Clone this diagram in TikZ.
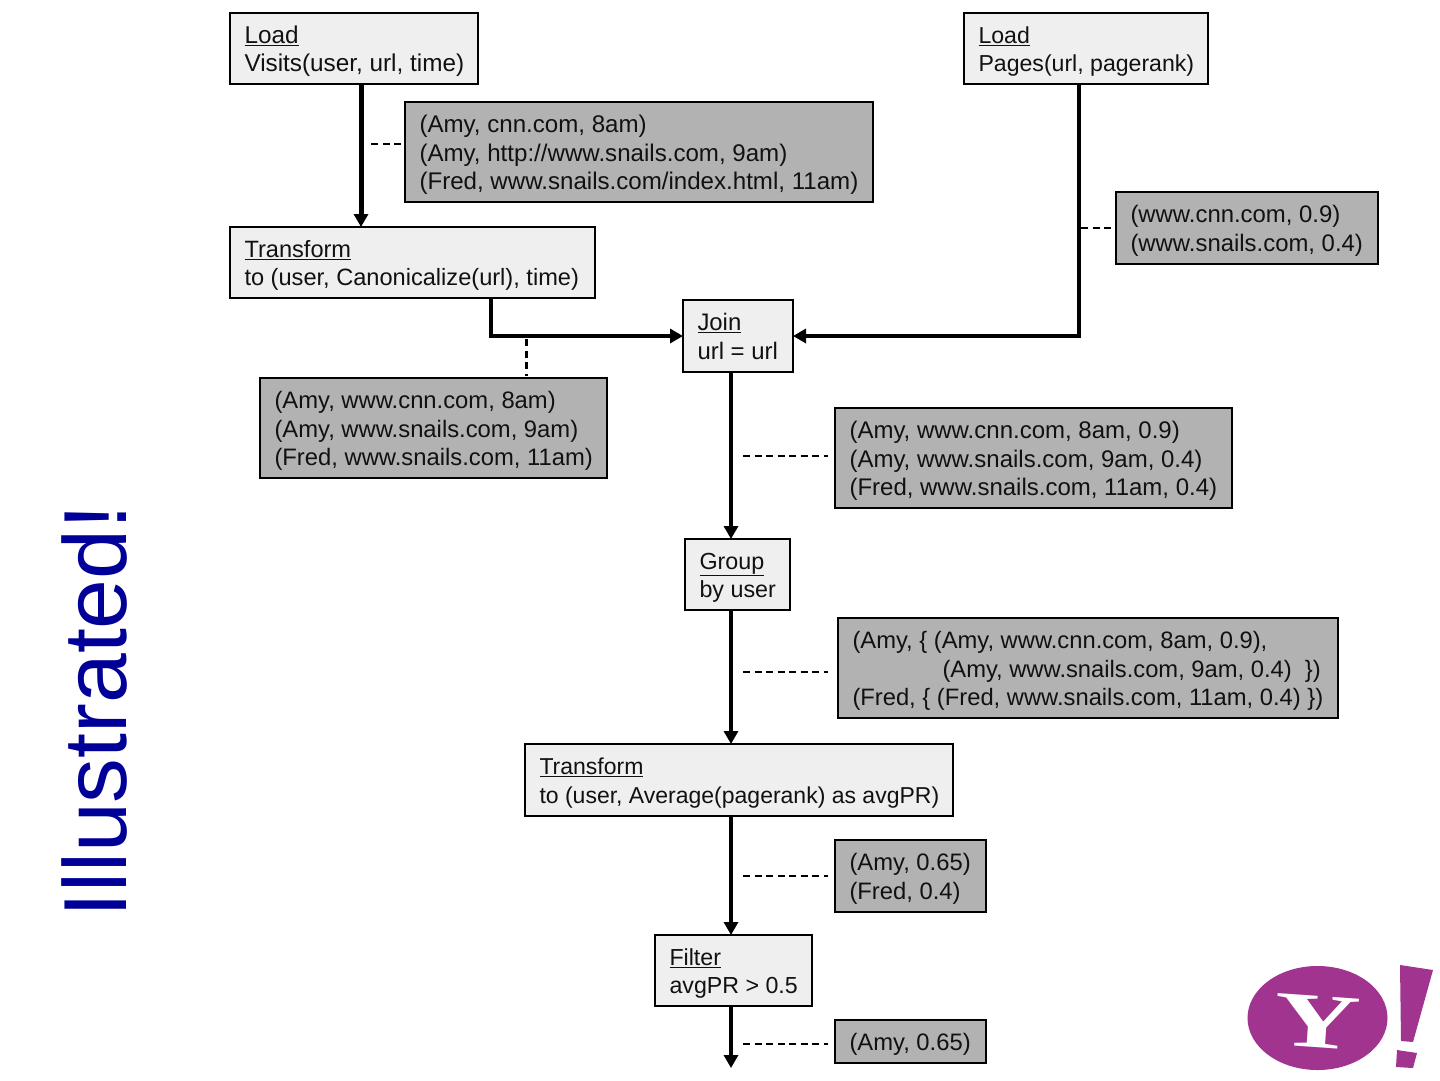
\documentclass[tikz,border=0pt]{standalone}
\usepackage{fontspec}
\setmainfont{Liberation Sans}
\newfontfamily\logofont{Liberation Serif}
\usetikzlibrary{arrows.meta,calc}
\definecolor{opfill}{HTML}{EFEFEF}
\definecolor{datafill}{HTML}{B2B2B2}
\definecolor{txt}{HTML}{111111}
\definecolor{titleblue}{HTML}{000099}
\definecolor{yahoo}{HTML}{A1348F}
\tikzset{
  x=1pt,y=-1pt,
  box/.style={draw=black,line width=1.8pt,anchor=north west,inner sep=0pt,outer sep=0pt,text=txt},
  op/.style={box,fill=opfill},
  data/.style={box,fill=datafill},
  flow/.style={draw=black,line width=3.6pt,-{Triangle[length=13pt,width=14pt]}},
  flowthick/.style={flow,line width=5pt},
  flowmid/.style={flow,line width=4pt,line join=miter},
  note/.style={draw=black,line width=1.8pt,dash pattern=on 7pt off 4.5pt},
}
\newcommand{\boxat}[8]{\node[#1,font=\fontsize{#8}{28.6}\selectfont,minimum height=#6pt-#4pt] (#2) at (#3,#4)
  {\makebox[\dimexpr#5pt-#3pt\relax][l]{\hspace{14.5pt}\raisebox{-9.5pt}[0pt][0pt]{\begin{tabular}[c]{@{}l@{}}#7\end{tabular}}}};}
\begin{document}
\begin{tikzpicture}
\useasboundingbox (0,0) rectangle (1440,1080);
\fill[white] (0,0) rectangle (1440,1080);
\node[rotate=90,text=titleblue,font=\fontsize{89.5}{89.5}\selectfont,inner sep=0pt] (title) at (95,711) {Illustrated!};

\boxat{op}{v1}{230}{13}{478}{84}{\underline{Load}\\Visits(user, url, time)}{24.3}
\boxat{op}{p1}{964}{13}{1208}{84}{\underline{Load}\\Pages(url, pagerank)}{23.1}
\boxat{data}{d1}{405}{102}{873}{202}{(Amy, cnn.com, 8am)\\(Amy, http://www.snails.com, 9am)\\(Fred, www.snails.com/index.html, 11am)}{24.1}
\boxat{op}{t1}{230}{227}{595}{298}{\underline{Transform}\\to (user, Canonicalize(url), time)}{23.6}
\boxat{data}{d2}{1116}{192}{1378}{264}{(www.cnn.com, 0.9)\\(www.snails.com, 0.4)}{23.9}
\boxat{op}{j}{683}{300}{793}{372}{\underline{Join}\\url = url}{23.9}
\boxat{data}{d3}{260}{378}{607}{478}{(Amy, www.cnn.com, 8am)\\(Amy, www.snails.com, 9am)\\(Fred, www.snails.com, 11am)}{23.8}
\boxat{data}{d4}{835}{408}{1232}{508}{(Amy, www.cnn.com, 8am, 0.9)\\(Amy, www.snails.com, 9am, 0.4)\\(Fred, www.snails.com, 11am, 0.4)}{24}
\boxat{op}{g}{685}{539}{790}{610}{\underline{Group}\\by user}{23.3}
\boxat{data}{d5}{838}{618}{1338}{718}{(Amy, \{ (Amy, www.cnn.com, 8am, 0.9),\\\hspace*{90pt}(Amy, www.snails.com, 9am, 0.4) \ \})\\(Fred, \{ (Fred, www.snails.com, 11am, 0.4) \})}{23.75}
\boxat{op}{t2}{525}{744}{953}{816}{\underline{Transform}\\to (user, Average(pagerank) as avgPR)}{23}
\boxat{data}{d6}{835}{840}{986}{912}{(Amy, 0.65)\\(Fred, 0.4)}{23.8}
\boxat{op}{f}{655}{935}{812}{1006}{\underline{Filter}\\avgPR > 0.5}{23.2}
\boxat{data}{d7}{835}{1020}{986}{1063}{(Amy, 0.65)}{23.8}

% column and row helpers
\coordinate (cv) at (361,0);
\coordinate (ct) at (491,336);
\coordinate (cp) at (1079,336);
\coordinate (cm) at (731,0);
\coordinate (rj) at (0,336);
\coordinate (out) at (731,1068);

\draw[flowthick] (v1.south -| cv) -- (t1.north -| cv);
\draw[flowmid] (t1.south -| ct) -- (ct) -- (j.west |- rj);
\draw[flowmid] (p1.south -| cp) -- (cp) -- (j.east |- rj);
\draw[flow] (j.south -| cm) -- (g.north -| cm);
\draw[flow] (g.south -| cm) -- (t2.north -| cm);
\draw[flow] (t2.south -| cm) -- (f.north -| cm);
\draw[flow] (f.south -| cm) -- (out);

% dashed links
\coordinate (n1) at (371,144);
\coordinate (n2) at (526,339);
\coordinate (n2e) at (526,376);
\coordinate (n3) at (1081,228);
\coordinate (n4a) at (743,456);
\coordinate (n4b) at (828,456);
\coordinate (n5a) at (743,672);
\coordinate (n5b) at (828,672);
\coordinate (n6a) at (743,876);
\coordinate (n6b) at (828,876);
\coordinate (n7a) at (743,1044);
\coordinate (n7b) at (828,1044);
\draw[note] (n1) -- (n1 -| d1.west);
\draw[note,line width=3pt,dash pattern=on 7pt off 4.5pt] (n2) -- (n2e);
\draw[note] (n3) -- (n3 -| d2.west);
\draw[note] (n4a) -- (n4b);
\draw[note] (n5a) -- (n5b);
\draw[note] (n6a) -- (n6b);
\draw[note] (n7a) -- (n7b);

% logo
\fill[yahoo] (1317.5,1018) ellipse [x radius=70,y radius=52];
\node[text=white,inner sep=0pt,rotate=-4,font=\logofont\bfseries\fontsize{85}{85}\selectfont] (logoY) at (1317.5,1021.5) {\scalebox{1.4}[0.92]{Y}};
\fill[yahoo] (1400,965) -- (1433,970) -- (1413,1042) -- (1401,1041) -- cycle;
\fill[yahoo] (1397,1050) -- (1417,1053) -- (1413,1068) -- (1396,1067) -- cycle;
\end{tikzpicture}
\end{document}
